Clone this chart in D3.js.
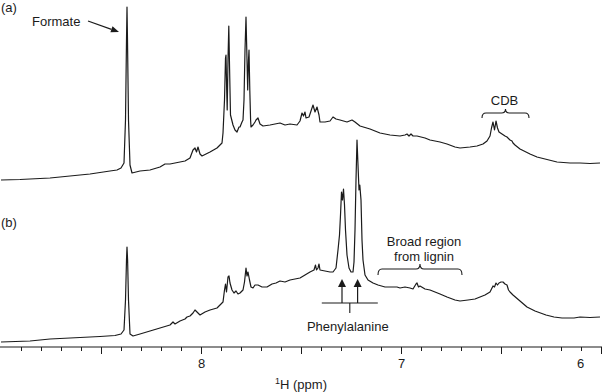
<!DOCTYPE html>
<html><head><meta charset="utf-8">
<script src="https://cdn.jsdelivr.net/npm/d3@7"></script>
<style>
html,body{margin:0;padding:0;background:#fff;}
svg{display:block;font-family:"Liberation Sans",Arial,Helvetica,sans-serif;}
</style></head>
<body>
<svg id="chart" width="602" height="392"></svg>
<script>
// ---- data: chemical shift (ppm) and intensity (a.u.) ----
const ppmA = [9.000,8.905,8.755,8.555,8.455,8.420,8.400,8.385,8.3775,8.3725,8.370,8.3675,8.3625,8.355,8.345,8.305,8.255,8.205,8.180,8.155,8.130,8.105,8.080,8.055,8.040,8.030,8.0225,8.015,8.005,7.995,7.955,7.920,7.905,7.895,7.890,7.8825,7.8775,7.875,7.8715,7.869,7.865,7.861,7.857,7.8525,7.840,7.830,7.820,7.810,7.805,7.795,7.790,7.785,7.780,7.775,7.770,7.7665,7.7625,7.760,7.756,7.752,7.750,7.740,7.730,7.725,7.715,7.705,7.690,7.655,7.630,7.605,7.580,7.555,7.520,7.505,7.495,7.4875,7.480,7.475,7.460,7.450,7.440,7.430,7.420,7.410,7.405,7.380,7.355,7.340,7.325,7.305,7.270,7.245,7.230,7.205,7.155,7.105,7.055,7.005,6.980,6.970,6.960,6.950,6.940,6.920,6.880,6.855,6.805,6.770,6.730,6.705,6.655,6.620,6.590,6.570,6.555,6.5475,6.540,6.5325,6.525,6.5175,6.510,6.495,6.480,6.470,6.455,6.445,6.440,6.430,6.405,6.355,6.320,6.280,6.220,6.155,6.105,6.055,6.005];
const intA = [2,2.5,4,8,11,12,14,19,62,142,175,142,62,17,9,11,12,15,18,18,19,20,21,24,32,34,30,35,28,26,30,34,37,39,49,82,124,127,92,72,122,156,112,67,57,52,50,55,55,60,62,82,132,165,122,92,122,132,92,62,55,57,60,62,64,58,56,57,58,59,57,58,57,61,69,66,70,64,65,71,77,70,75,67,60,60,61,65,63,62,60,62,60,56,53,49,47,46,47,48,46,48,46,46,44,42,40,38,35,34,35,36,38,41,46,54,60,52,61,54,50,48,46,45,42,41,39,37,33,28,25,23,20,19,19,18.5,19];

const ppmB = [9.000,8.855,8.755,8.605,8.505,8.430,8.400,8.385,8.3775,8.3725,8.370,8.367,8.3625,8.355,8.340,8.305,8.255,8.205,8.155,8.140,8.130,8.105,8.080,8.070,8.055,8.040,8.030,8.020,8.005,7.980,7.955,7.920,7.905,7.890,7.8825,7.8775,7.8725,7.865,7.860,7.855,7.845,7.835,7.825,7.815,7.805,7.795,7.790,7.7825,7.775,7.770,7.765,7.7575,7.750,7.740,7.730,7.715,7.695,7.670,7.645,7.625,7.605,7.580,7.555,7.530,7.505,7.480,7.455,7.435,7.4275,7.4225,7.415,7.410,7.405,7.380,7.355,7.340,7.325,7.315,7.3075,7.3025,7.2975,7.2925,7.2875,7.2825,7.2775,7.270,7.260,7.250,7.240,7.235,7.230,7.225,7.220,7.215,7.210,7.206,7.200,7.195,7.190,7.180,7.165,7.140,7.115,7.080,7.055,7.020,7.005,6.980,6.955,6.940,6.925,6.920,6.9125,6.905,6.880,6.855,6.805,6.770,6.730,6.705,6.665,6.630,6.605,6.580,6.555,6.545,6.540,6.5325,6.525,6.5175,6.510,6.500,6.490,6.480,6.470,6.4625,6.455,6.440,6.405,6.370,6.330,6.275,6.235,6.195,6.135,6.105,6.055,6.005];
const intB = [2,3,5,6.5,7.5,8.5,10,14,44,84,97,84,44,10,8,10,13,16,19,22,20,23,25,27,28,31,34,32,29,32,34,36,39,42,54,60,52,67,68,61,54,51,53,50,51,53,54,62,76,68,72,64,57,56,59,59,57,57,60,61,63,62,64,65,66,69,72,74,79,74,76,80,74,73,72,72,76,94,109,129,152,144,155,139,114,89,76,72,72,82,114,164,204,179,154,159,144,104,84,69,64,61,59,57,57,57,56,57,56,55,60,61,57,58,55,54,50,47,44,43,44,45,47,49,52,56,58,57,61,59,61,62,62,60,59,54,52,49,43,37,33,29,27,26,26,27,26.5,27];

const majorTicks = [8, 7, 6];
const axisTitle = "H (ppm)";
const labels = {a: "(a)", b: "(b)", formate: "Formate", cdb: "CDB",
  lignin: ["Broad region", "from lignin"], phe: "Phenylalanine"};
const phePeaks = [7.295, 7.217];
const cdbRange = [6.595, 6.36];
const ligninRange = [7.115, 6.695];

// ---- scales ----
const svg = d3.select("#chart");
const W = 602, H = 392;
const x = d3.scaleLinear().domain([9, 6]).range([1, 601]);
const yA = d3.scaleLinear().domain([0, 100]).range([182, 82]);
const yB = d3.scaleLinear().domain([0, 100]).range([344, 244]);
const ink = "#1b1b1b";
const FS = 13;

const lineA = d3.line().x((d,i)=>x(ppmA[i])).y(d=>yA(d));
const lineB = d3.line().x((d,i)=>x(ppmB[i])).y(d=>yB(d));
svg.append("path").attr("d", lineA(intA)).attr("fill","none").attr("stroke",ink).attr("stroke-width",1.2).attr("stroke-linejoin","round");
svg.append("path").attr("d", lineB(intB)).attr("fill","none").attr("stroke",ink).attr("stroke-width",1.2).attr("stroke-linejoin","round");

// ---- axis ----
const axisY = 347;
const minor = d3.range(60, 90).map(d => d/10).filter(v => Math.abs(v*2 - Math.round(v*2)) > 1e-6);
const half = d3.range(12, 18).map(d => d/2);
const gMinor = svg.append("g").attr("transform",`translate(0,${axisY})`)
  .call(d3.axisBottom(x).tickValues(minor).tickSize(4).tickFormat(""));
const gMajor = svg.append("g").attr("transform",`translate(0,${axisY})`)
  .call(d3.axisBottom(x).tickValues(half).tickSize(7).tickPadding(5)
    .tickFormat(d => majorTicks.includes(d) ? d3.format("d")(d) : ""));
[gMinor, gMajor].forEach(g => {
  g.select(".domain").remove();
  g.selectAll("line").attr("stroke", ink).attr("stroke-width", 1);
  g.selectAll("text").attr("fill", ink).style("font-size", FS+"px").style("font-family","inherit");
});
// keep the edge label inside the frame, as in the reference
gMajor.selectAll(".tick text").filter(d => d === x.domain()[1]).attr("dx", -21);
svg.append("line").attr("x1",0).attr("x2",W).attr("y1",axisY).attr("y2",axisY).attr("stroke",ink).attr("stroke-width",1.2);

const title = svg.append("text").attr("x", x(7.5)).attr("y", 389).attr("text-anchor","middle")
  .style("font-size", FS+"px").attr("fill", ink);
title.append("tspan").text("1").style("font-size","9px").attr("dy","-5");
title.append("tspan").text(axisTitle).attr("dy","5");

// ---- annotations ----
const txt = (t, px, py, anchor="start") => svg.append("text").attr("x",px).attr("y",py)
  .attr("text-anchor",anchor).style("font-size",FS+"px").attr("fill",ink).text(t);
txt(labels.a, 1, 12);
txt(labels.b, 1, 227);
txt(labels.formate, 32, 26);

// arrow to formate
function arrow(x1,y1,x2,y2,hl=8,hw=3.2){
  const dx=x2-x1, dy=y2-y1, L=Math.hypot(dx,dy), ux=dx/L, uy=dy/L;
  const bx=x2-ux*hl, by=y2-uy*hl;
  svg.append("line").attr("x1",x1).attr("y1",y1).attr("x2",bx).attr("y2",by).attr("stroke",ink).attr("stroke-width",1.2);
  svg.append("path").attr("d",`M${x2},${y2}L${bx-uy*hw},${by+ux*hw}L${bx+uy*hw},${by-ux*hw}Z`).attr("fill",ink);
}
arrow(88, 21, 119, 32);

// braces
function brace(x1, x2, xm, yb, drop, tip){
  const r = 4;
  const d = `M${x1},${yb+drop} Q${x1},${yb} ${x1+r},${yb} L${xm-r},${yb} Q${xm},${yb} ${xm},${yb-tip} Q${xm},${yb} ${xm+r},${yb} L${x2-r},${yb} Q${x2},${yb} ${x2},${yb+drop}`;
  svg.append("path").attr("d", d).attr("fill","none").attr("stroke",ink).attr("stroke-width",1.1);
}
brace(x(cdbRange[0]), x(cdbRange[1]), x(d3.mean(cdbRange)), 113, 5, 4);
txt(labels.cdb, x(d3.mean(cdbRange)) - 1, 105, "middle");

brace(x(ligninRange[0]), x(ligninRange[1]), x(d3.mean(ligninRange)), 269, 6, 5);
txt(labels.lignin[0], x(d3.mean(ligninRange)) + 4, 246, "middle");
txt(labels.lignin[1], x(d3.mean(ligninRange)) + 4, 261, "middle");

// phenylalanine markers
phePeaks.forEach(p => arrow(x(p), 303, x(p), 279, 8, 4));
const pm = d3.mean(phePeaks);
svg.append("line").attr("x1",x(pm)-28).attr("x2",x(pm)+28).attr("y1",303).attr("y2",303).attr("stroke",ink).attr("stroke-width",1.1);
svg.append("line").attr("x1",x(pm)).attr("x2",x(pm)).attr("y1",303).attr("y2",313).attr("stroke",ink).attr("stroke-width",1.1);
txt(labels.phe, x(pm) - 2, 331, "middle");
</script>
</body></html>
